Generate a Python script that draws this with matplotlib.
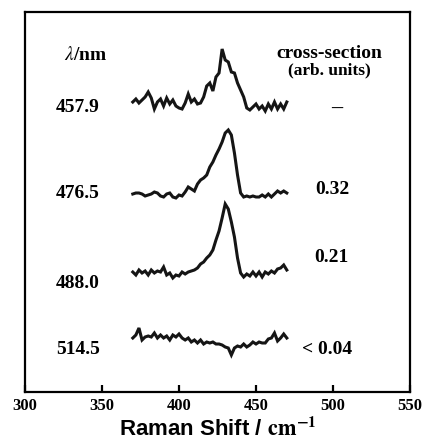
import matplotlib
matplotlib.use("Agg")
import matplotlib.pyplot as plt
import numpy as np

plt.rcParams['mathtext.fontset'] = 'stix'

# Raman shift axis (cm^-1)
shift = list(range(370, 471, 2))

# Spectra (vertically offset, arbitrary units)
spec_4579 = [290, 293, 289, 292, 295, 300, 294, 283, 290, 293,
             286, 294, 288, 292, 286, 284, 283, 289, 298, 290,
             293, 288, 289, 295, 306, 309, 301, 315, 319, 343,
             332, 330, 320, 319, 309, 302, 295, 284, 282, 285,
             288, 283, 286, 281, 288, 283, 290, 283, 288, 283, 290]
spec_4765 = [198, 199, 199, 198, 196, 197, 198, 200, 199, 196,
             195, 198, 199, 195, 194, 197, 196, 200, 205, 203,
             201, 208, 212, 214, 217, 225, 230, 237, 243, 250,
             259, 262, 257, 239, 217, 199, 195, 196, 195, 196,
             195, 195, 197, 195, 198, 195, 198, 201, 199, 201, 199]
spec_4880 = [120, 117, 122, 119, 121, 117, 122, 119, 121, 120,
             125, 117, 119, 114, 117, 116, 120, 118, 120, 121,
             122, 124, 128, 130, 134, 137, 142, 152, 161, 174,
             188, 183, 170, 155, 134, 119, 115, 118, 116, 120,
             116, 120, 115, 120, 118, 121, 119, 123, 124, 127, 122]
spec_5145 = [54, 57, 64, 52, 55, 56, 55, 59, 54, 57,
             54, 56, 52, 57, 55, 58, 54, 52, 54, 50,
             52, 49, 52, 48, 50, 49, 50, 48, 48, 47,
             45, 44, 37, 44, 46, 45, 48, 45, 47, 50,
             48, 50, 49, 49, 53, 54, 59, 51, 54, 58, 54]

wavelengths = ["457.9", "476.5", "488.0", "514.5"]
wl_label_y = [284, 199, 109, 42]
cross_sections = ["\u2013", "0.32", "0.21", "< 0.04"]
cs_label_x = [502.6, 499.4, 499.0, 496.0]
cs_label_y = [283, 202, 134, 42]

xticks = [300, 350, 400, 450, 500, 550]

fig = plt.figure(figsize=(4.22, 4.41), dpi=100)
ax = fig.add_axes([25/422, (441-392)/441, (410-25)/422, (392-12)/441])

for s in (spec_4579, spec_4765, spec_4880, spec_5145):
    ax.plot(shift, s, color='#151515', lw=2.2, solid_joinstyle='miter')

ax.set_xlim(300, 550)
ax.set_ylim(0, 380)
ax.set_yticks([])
ax.set_xticks(xticks)
ax.set_xticklabels([str(t) for t in xticks], fontfamily='Liberation Serif',
                   fontweight='bold', fontsize=12)
ax.tick_params(axis='x', direction='in', length=5, width=1.6, pad=4,
               top=False)
for sp in ax.spines.values():
    sp.set_linewidth(1.6)

serif = dict(fontfamily='Liberation Serif', fontweight='bold', ha='center',
             va='center')

ax.text(339.6, 337, r'$\mathit{\lambda}$/nm', fontsize=14, **serif)
for lab, y in zip(wavelengths, wl_label_y):
    ax.text(334.5, y, lab, fontsize=14, **serif)

ax.text(497.4, 339, 'cross-section', fontsize=14, **serif)
ax.text(497.4, 322, '(arb. units)', fontsize=12.5, **serif)
for lab, x, y in zip(cross_sections, cs_label_x, cs_label_y):
    ax.text(x, y, lab, fontsize=16 if lab == "\u2013" else 14, **serif)

ax.set_xlabel(r'Raman Shift / $\mathbf{cm}^{\mathbf{-1}}$',
              fontfamily='Liberation Sans', fontweight='bold', fontsize=16,
              labelpad=3)

fig.savefig('out.png', dpi=100)
